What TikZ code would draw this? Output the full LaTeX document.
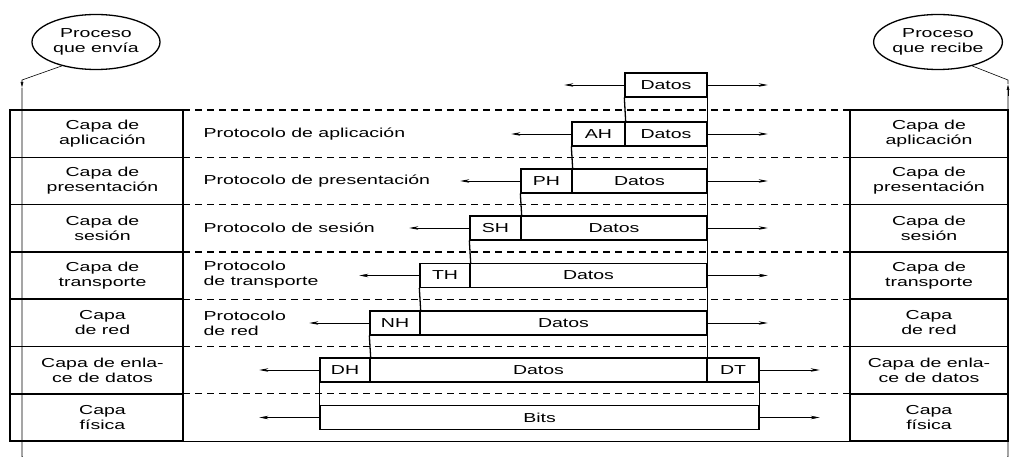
\documentclass[tikz,border=0pt]{standalone}
\usepackage{fontspec}
\setmainfont[FakeStretch=1.5]{Liberation Sans}
\usetikzlibrary{arrows.meta,shapes.geometric}

\begin{document}
\begin{tikzpicture}[x=1pt,y=-1pt,
    font=\fontsize{13}{15}\selectfont,
    capa/.style={align=center},
    proceso/.style={draw, line width=1.3pt, ellipse, minimum width=128pt,
                    minimum height=55pt, inner sep=0pt, align=center},
    paquete/.style={draw, line width=1.3pt, minimum height=24pt, inner sep=0pt},
    marco/.style={line width=1.5pt},
    division/.style={dash pattern=on 7pt off 5pt, line width=1.2pt},
    flecha/.style={-{Stealth[length=9pt,width=3.5pt]}, semithick},
    punta/.style={-{Latex[length=6pt,width=3pt]}, semithick}]
  \useasboundingbox (0,0) rectangle (1011,457);
  \clip (0,0) rectangle (1011,457);
  % ---------- procesos ----------
  \node[proceso] (envia) at (96,42) {Proceso\\que envía};
  \node[proceso] (recibe) at (938,42) {Proceso\\que recibe};
  % ---------- camino ----------
  \draw[punta] (envia.215) -- (22,80) -- (22,88);
  \draw[line width=0.9pt, rounded corners=10pt] (22,88) -- (22,466) -- (1008,466) -- (1008,88);
  \draw[punta] (1008,96) -- (1008,84);
  \draw[semithick] (1008,84) -- (1008,80) -- (recibe.325);
  % ---------- capas ----------
  \draw[marco] (10,110) rectangle (183,441);
  \draw[marco] (850,110) rectangle (1008,441);
  \foreach \y in {157.3,204.6,251.9,299.2,346.5,393.8} {
    \draw[marco] (10,\y) -- (183,\y);
    \draw[marco] (850,\y) -- (1008,\y);
  }
  \foreach \y in {110,157.3,204.6,251.9,299.2,346.5,393.8}
    \draw[division] (183,\y) -- (850,\y);
  \draw[thin] (183,441) -- (850,441);
  \foreach \t [count=\i] in {{Capa de\\aplicación},{Capa de\\presentación},
      {Capa de\\sesión},{Capa de\\transporte},{Capa\\de red},
      {Capa de enla-\\ce de datos},{Capa\\física}} {
    \node[capa] (emisor\i) at (102.5,86.35+47.3*\i) {\t};
    \node[capa] (receptor\i) at (929,86.35+47.3*\i) {\t};
  }
  % ---------- protocolos ----------
  \node[anchor=west] (papl) at (200,134) {Protocolo de aplicación};
  \node[anchor=west] (ppre) at (200,181) {Protocolo de presentación};
  \node[anchor=west] (pses) at (200,228) {Protocolo de sesión};
  \node[anchor=west, align=left] (ptra) at (200,275) {Protocolo\\de transporte};
  \node[anchor=west, align=left] (pred) at (200,323) {Protocolo\\de red};
  % ---------- paquetes ----------
  \node[paquete, minimum width=82pt] (datos0) at (666,85) {Datos};
  \node[paquete, minimum width=53pt] (ah) at (598.5,134) {AH};
  \node[paquete, minimum width=82pt] (datos1) at (666,134) {Datos};
  \node[paquete, minimum width=51pt] (ph) at (546.5,181) {PH};
  \node[paquete, minimum width=135pt] (datos2) at (639.5,181) {Datos};
  \node[paquete, minimum width=51pt] (sh) at (495.5,228) {SH};
  \node[paquete, minimum width=186pt] (datos3) at (614,228) {Datos};
  \node[paquete, minimum width=50pt] (th) at (445,275.5) {TH};
  \node[paquete, minimum width=237pt] (datos4) at (588.5,275.5) {Datos};
  \node[paquete, minimum width=50pt] (nh) at (395,323) {NH};
  \node[paquete, minimum width=287pt] (datos5) at (563.5,323) {Datos};
  \node[paquete, minimum width=50pt] (dh) at (345,370) {DH};
  \node[paquete, minimum width=337pt] (datos6) at (538.5,370) {Datos};
  \node[paquete, minimum width=52pt] (dt) at (733,370) {DT};
  \node[paquete, minimum width=439pt] (bits) at (539.5,417.5) {Bits};
  % ---------- uniones ----------
  \foreach \a/\b in {datos0.south west/ah.north east, datos0.south east/datos1.north east,
      ah.south west/ph.north east, datos1.south east/datos2.north east,
      ph.south west/sh.north east, datos2.south east/datos3.north east,
      sh.south west/th.north east, datos3.south east/datos4.north east,
      th.south west/nh.north east, datos4.south east/datos5.north east,
      nh.south west/dh.north east, datos5.south east/datos6.north east,
      dh.south west/bits.north west, dt.south east/bits.north east}
    \draw[line width=1.3pt] (\a) -- (\b);
  % ---------- flechas ----------
  \foreach \n in {datos0,ah,ph,sh,th,nh,dh,bits} {
    \coordinate (\n-izq) at ([xshift=-60pt]\n.west);
    \draw[flecha] (\n.west) -- (\n-izq);
  }
  \foreach \n in {datos0,datos1,datos2,datos3,datos4,datos5,dt,bits} {
    \coordinate (\n-der) at ([xshift=60pt]\n.east);
    \draw[flecha] (\n.east) -- (\n-der);
  }
\end{tikzpicture}
\end{document}
